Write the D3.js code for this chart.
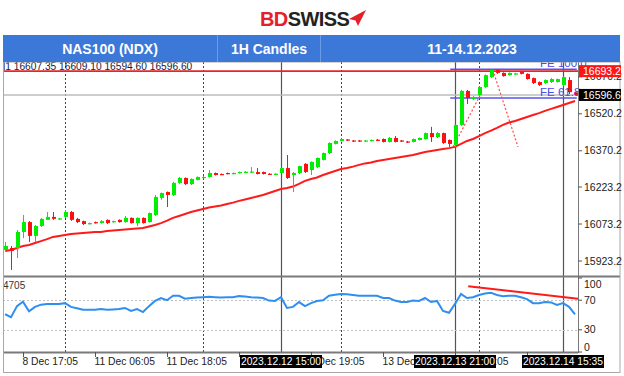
<!DOCTYPE html>
<html><head><meta charset="utf-8">
<script src="https://cdn.jsdelivr.net/npm/d3@7"></script>
<style>body{margin:0;background:#fff}svg{display:block}text{font-family:"Liberation Sans",Arial,sans-serif}</style>
</head><body><svg id="c" width="624" height="376"></svg>
<script>
// ---- data ----
const opens = [15968,15976,15976,16041,16081,16025,16065,16090,16102,16094,
16102,16122,16094,16085,16073,16081,16077,16090,16081,16090,
16081,16098,16077,16098,16081,16110,16179,16203,16191,16240,
16260,16235,16252,16260,16264,16280,16276,16280,16277,16280,
16282,16283,16284,16284,16277,16274,16280,16300,16272,16280,
16317,16292,16304,16333,16361,16398,16410,16416,16412,16412,
16409,16411,16415,16418,16406,16422,16412,16408,16406,16414,
16418,16442,16426,16442,16414,16394,16475,16613,16580,16596,
16629,16669,16698,16686,16677,16680,16690,16682,16665,16649,
16645,16649,16649,16637,16657,16607.35];
const highs = [16000,15984,16049,16110,16085,16069,16098,16122,16122,16098,
16130,16126,16098,16087,16079,16083,16089,16092,16087,16092,
16106,16100,16100,16100,16120,16191,16201,16205,16244,16264,
16262,16258,16266,16268,16292,16282,16278,16282,16282,16286,
16288,16304,16300,16286,16279,16279,16302,16353,16284,16310,
16320,16327,16343,16363,16404,16412,16420,16418,16414,16414,
16414,16416,16418,16420,16426,16430,16414,16410,16420,16424,
16444,16467,16446,16444,16416,16477,16617,16617,16592,16631,
16680,16700,16702,16688,16688,16686,16694,16684,16667,16651,
16659,16665,16663,16671,16669,16609.10];
const lows = [15960,15887,15935,16016,16000,16000,16061,16090,16090,16090,
16098,16086,16077,16069,16071,16075,16075,16073,16079,16079,
16079,16075,16065,16075,16079,16106,16171,16142,16187,16236,
16231,16231,16250,16258,16262,16270,16272,16275,16275,16278,
16280,16281,16274,16274,16272,16272,16278,16256,16203,16276,
16280,16272,16300,16331,16357,16396,16408,16410,16406,16407,
16407,16409,16410,16404,16404,16404,16406,16402,16404,16412,
16416,16406,16422,16398,16386,16386,16471,16560,16576,16592,
16625,16665,16682,16671,16675,16678,16680,16659,16641,16633,
16641,16645,16647,16633,16600,16594.60];
const closes = [15984,15964,16041,16081,16025,16065,16094,16102,16094,16096,
16122,16090,16081,16073,16077,16077,16085,16077,16085,16081,
16098,16077,16098,16077,16118,16183,16199,16191,16240,16260,
16235,16256,16264,16264,16280,16272,16273,16277,16280,16284,
16285,16286,16276,16276,16274,16277,16300,16260,16280,16308,
16284,16325,16341,16361,16402,16410,16418,16412,16408,16409,
16412,16414,16412,16406,16422,16406,16408,16404,16418,16422,
16442,16426,16442,16402,16398,16475,16613,16584,16588,16629,
16677,16698,16686,16673,16686,16684,16682,16661,16645,16637,
16657,16661,16661,16669,16608,16596.60];
const maValues = [15964,15968,15976,15984,15988,15996,16004,16012,16021,16025,
16029,16033,16035,16037,16039,16041,16041,16045,16047,16049,
16051,16053,16055,16057,16063,16069,16077,16087,16098,16106,
16114,16122,16128,16134,16140,16144,16148,16154,16160,16167,
16173,16179,16185,16191,16199,16207,16215,16219,16225,16236,
16248,16256,16262,16272,16280,16288,16296,16300,16306,16313,
16319,16323,16329,16333,16337,16341,16345,16349,16353,16359,
16365,16369,16373,16377,16381,16386,16398,16410,16418,16430,
16442,16452,16463,16475,16485,16491,16499,16507,16515,16523,
16532,16540,16548,16556,16564,16572];
const rsiValues = [51,47,62,68,55,61,64,65,65,65,
66,61,59,57,57,57,58,57,57.5,58,
59.5,55.5,58,54,62,69,73,70,76,76,
72,73,73.5,74,74.5,74,73.5,74,74,75.5,
75,74,73.5,73,69.5,69,74,59.5,61,67.5,
62,66,69,70,76,77.5,78.5,78,77,76,
76,76,76,73,73,69.5,67.5,67.5,69.5,69,
73,67.5,69,55.5,53,65,78.5,73,74,77,
79,80,77,75.5,76,76,74,71.5,66,66,
67.5,67,63.5,66,61,51];
const priceTicks = [16670.2,16520.2,16370.2,16223.2,16073.2,15923.2];
const rsiLevels = [70,30];
const rsiTickLabels = ["100","70","30","0"];
const rsiTickValues = [100,70,30,0];
const timeTickBars = [3,15,27,39,51,63,75,87];
// visible part of each time label (the rest is hidden by the marker boxes), and how it is anchored
const timeTickLabels = ["8 Dec 17:05","11 Dec 06:05","11 Dec 18:05","","Dec 19:05","13 Dec",":05",""];
const timeTickAnchor = ["start","start","start","start","end","start","end","start"];
const dayBars = [10,33,56,79];
const markerBars = [46,75,93];
const markerLabels = ["2023.12.12 15:00","2023.12.13 21:00","2023.12.14 15:35"];
const redLevel = 16693.2;
const bidLevel = 16596.6;
const feLevels = [16701,16584];
const feLabels = ["FE 100.0","FE 61.8"];
const feBars = [74.2,95.3];
const fiboTrend = [[[74.7,16386],[79.2,16596]],[[81.3,16698],[85.5,16386]]];
const rsiTrend = [[77.2,89],[95.5,72]];
const ohlcText = "l1  16607.35 16609.10 16594.60 16596.60";
const rsiLegend = "4705";
const headerTexts = ["NAS100 (NDX)","1H Candles","11-14.12.2023"];

// ---- scales ----
const svg = d3.select("#c");
const x = d3.scaleLinear().domain([0,95]).range([5,575]);
const y = d3.scaleLinear().domain([15862.4,16730.2]).range([276,62]);
const yr = d3.scaleLinear().domain([0,100]).range([352,278]);
const L = 3, R = 578;

const defs = svg.append("defs");
defs.append("clipPath").attr("id","cm").append("rect").attr("x",L).attr("y",62).attr("width",R-L).attr("height",213);
defs.append("clipPath").attr("id","cr").append("rect").attr("x",L).attr("y",278).attr("width",R-L).attr("height",73);

// vertical lines
const vg = svg.append("g");
dayBars.forEach(b=>{
  const xx = Math.round(x(b))+0.5;
  vg.append("line").attr("x1",xx).attr("x2",xx).attr("y1",62).attr("y2",352)
    .attr("stroke","#444").attr("stroke-dasharray","2,2");
});
markerBars.forEach(b=>{
  const xx = Math.round(x(b))+0.5;
  vg.append("line").attr("x1",xx).attr("x2",xx).attr("y1",62).attr("y2",352)
    .attr("stroke","#555").attr("stroke-width",1.2);
});

// main pane
const gm = svg.append("g").attr("clip-path","url(#cm)");
gm.append("line").attr("x1",L).attr("x2",R).attr("y1",y(bidLevel)).attr("y2",y(bidLevel))
  .attr("stroke","#bdbdbd").attr("stroke-width",1.5);
gm.append("line").attr("x1",L).attr("x2",R).attr("y1",y(redLevel)).attr("y2",y(redLevel))
  .attr("stroke","#e8242b").attr("stroke-width",1.6);
feLevels.forEach((lv,i)=>{
  gm.append("line").attr("x1",x(feBars[0])).attr("x2",x(feBars[1])).attr("y1",y(lv)).attr("y2",y(lv))
    .attr("stroke","#5555ee").attr("stroke-width",1.5);
});
fiboTrend.forEach(seg=>{
  gm.append("line").attr("x1",x(seg[0][0])).attr("y1",y(seg[0][1])).attr("x2",x(seg[1][0])).attr("y2",y(seg[1][1]))
    .attr("stroke","#ff4a4a").attr("stroke-dasharray","2,2").attr("stroke-width",1.2);
});
// MA
gm.append("path").datum(maValues)
  .attr("d", d3.line().x((d,i)=>x(i)).y(d=>y(d)))
  .attr("fill","none").attr("stroke","#ff1a1a").attr("stroke-width",2);
// candles
const cg = gm.append("g");
opens.forEach((o,i)=>{
  const c = closes[i], up = c >= o;
  const col = up ? "#00ee00" : "#ff1010";
  const cx = Math.round(x(i));
  cg.append("line").attr("x1",cx+0.5).attr("x2",cx+0.5).attr("y1",y(highs[i])).attr("y2",y(lows[i]))
    .attr("stroke",col).attr("stroke-width",1);
  const top = y(Math.max(o,c)), bot = y(Math.min(o,c));
  cg.append("rect").attr("x",cx-1).attr("width",4).attr("y",top).attr("height",Math.max(1.2,bot-top)).attr("fill",col);
});
// FE labels
feLevels.forEach((lv,i)=>{
  svg.append("text").attr("x",540).attr("y",y(lv)-2).attr("font-size",11.5).attr("fill","#4a4ae8").text(feLabels[i]);
});
// OHLC text
svg.append("text").attr("x",3).attr("y",70).attr("font-size",10.2).attr("fill","#1a1a40").text(ohlcText);

// RSI pane
const gr = svg.append("g").attr("clip-path","url(#cr)");
rsiLevels.forEach(v=>{
  gr.append("line").attr("x1",L).attr("x2",R).attr("y1",Math.round(yr(v))+0.5).attr("y2",Math.round(yr(v))+0.5)
    .attr("stroke","#c0c0c0").attr("stroke-dasharray","2,2");
});
gr.append("path").datum(rsiValues)
  .attr("d", d3.line().x((d,i)=>x(i)).y(d=>yr(d)))
  .attr("fill","none").attr("stroke","#2f8ff0").attr("stroke-width",2);
gr.append("line").attr("x1",x(rsiTrend[0][0])).attr("y1",yr(rsiTrend[0][1])).attr("x2",x(rsiTrend[1][0])).attr("y2",yr(rsiTrend[1][1]))
  .attr("stroke","#ff1a1a").attr("stroke-width",2);
svg.append("text").attr("x",3).attr("y",289).attr("font-size",10).attr("fill","#333").text(rsiLegend);

// frame / separators
svg.append("line").attr("x1",L).attr("x2",620).attr("y1",276.5).attr("y2",276.5).attr("stroke","#7a7a7a").attr("stroke-width",2);
svg.append("line").attr("x1",L).attr("x2",R).attr("y1",352.5).attr("y2",352.5).attr("stroke","#7a7a7a").attr("stroke-width",2);
svg.append("line").attr("x1",R+0.5).attr("x2",R+0.5).attr("y1",62).attr("y2",353).attr("stroke","#7a7a7a").attr("stroke-width",1);
svg.append("rect").attr("x",3.5).attr("y",62).attr("width",616.5).attr("height",310.5)
  .attr("fill","none").attr("stroke","#a8a8a8").attr("stroke-width",1);

// price axis
priceTicks.forEach(v=>{
  const yy = y(v);
  svg.append("line").attr("x1",R).attr("x2",R+4).attr("y1",yy).attr("y2",yy).attr("stroke","#555");
  svg.append("text").attr("x",584).attr("y",yy).attr("dy","0.35em").attr("font-size",10.5).attr("fill","#222").text(v.toFixed(1));
});
// current price tags
[[redLevel,"#ff1515"],[bidLevel,"#000"]].forEach(([v,col])=>{
  const yy = y(v);
  svg.append("rect").attr("x",579).attr("y",yy-6).attr("width",42).attr("height",12).attr("fill",col);
  svg.append("text").attr("x",583).attr("y",yy).attr("dy","0.35em").attr("font-size",10.5).attr("fill","#fff").text(v.toFixed(1));
});
// rsi axis
rsiTickValues.forEach((v,i)=>{
  const yy = Math.min(Math.max(yr(v),284),347);
  svg.append("line").attr("x1",R).attr("x2",R+4).attr("y1",yr(v)).attr("y2",yr(v)).attr("stroke","#555");
  svg.append("text").attr("x",584).attr("y",yy).attr("dy","0.35em").attr("font-size",10.5).attr("fill","#222").text(rsiTickLabels[i]);
});
// time axis
const fullW = 54; // width of a full "dd Mon hh:mm" label
timeTickBars.forEach((b,i)=>{
  const xx = Math.round(x(b))+0.5;
  svg.append("line").attr("x1",xx).attr("x2",xx).attr("y1",352).attr("y2",357).attr("stroke","#555");
  if (!timeTickLabels[i]) return;
  const tx = timeTickAnchor[i] === "end" ? xx - 1 + fullW : xx - 1;
  svg.append("text").attr("x",tx).attr("y",365).attr("text-anchor",timeTickAnchor[i])
    .attr("font-size",10.3).attr("fill","#222").text(timeTickLabels[i]);
});
markerBars.forEach((b,i)=>{
  const xx = x(b);
  svg.append("rect").attr("x",xx-41).attr("y",355).attr("width",82).attr("height",13).attr("fill","#000");
  svg.append("text").attr("x",xx).attr("y",365).attr("text-anchor","middle").attr("font-size",10.3).attr("fill","#fff").text(markerLabels[i]);
});

// header
svg.append("rect").attr("x",3).attr("y",35).attr("width",617).attr("height",27).attr("fill","#3c78d8");
[217.5,320.5].forEach(xx=>svg.append("line").attr("x1",xx).attr("x2",xx).attr("y1",35).attr("y2",62).attr("stroke","#6a9be6").attr("stroke-width",1));
[110,269,472].forEach((cx,i)=>{
  svg.append("text").attr("x",cx).attr("y",53.5).attr("text-anchor","middle").attr("font-size",14).attr("font-weight","bold")
    .attr("fill","#fff").text(headerTexts[i]);
});
// logo
const logo = svg.append("text").attr("x",260).attr("y",26).attr("font-size",20).attr("font-weight","bold").attr("letter-spacing","-0.6");
logo.append("tspan").attr("fill","#e4202a").text("BD");
logo.append("tspan").attr("fill","#222").text("SWISS");
svg.append("path").attr("d","M349,19 L366,10 L358,26 L355.5,20.5 Z").attr("fill","#e4202a");
</script></body></html>
